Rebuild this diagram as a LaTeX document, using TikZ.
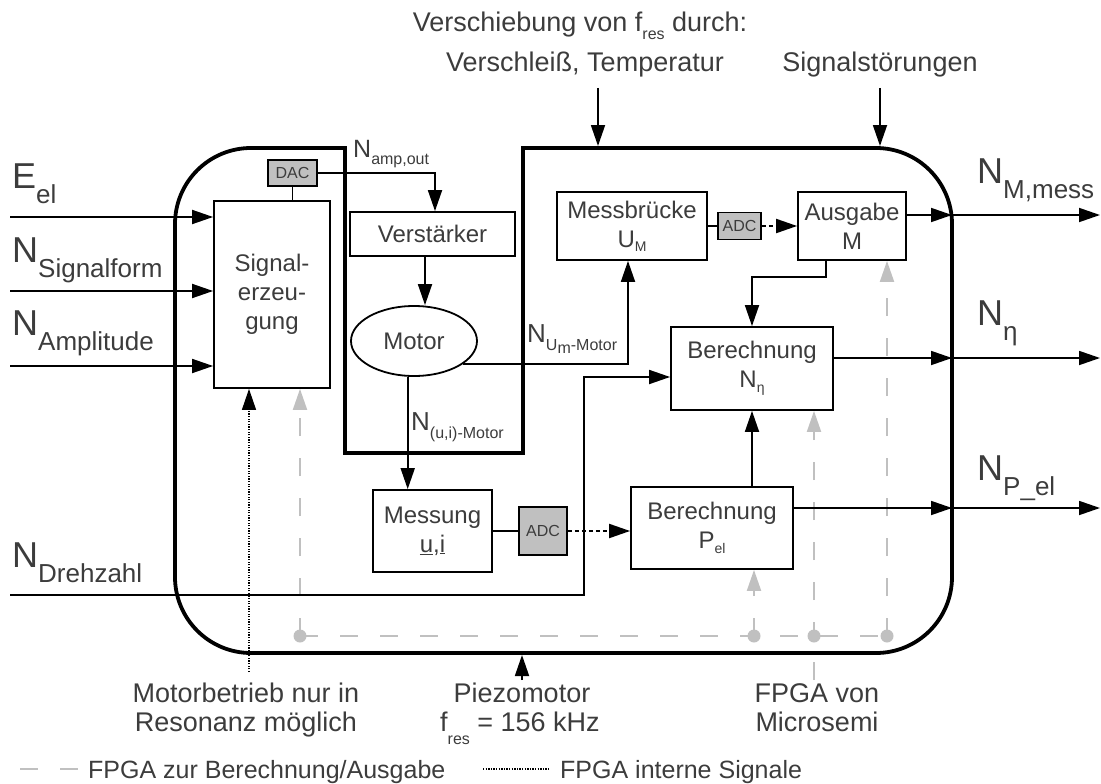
\documentclass[tikz,border=0pt]{standalone}
\usepackage{fontspec}
\setmainfont{Liberation Sans}
\usetikzlibrary{arrows.meta,shapes.geometric,calc}
\definecolor{txt}{RGB}{60,60,60}
\definecolor{fpga}{RGB}{192,192,192}
\definecolor{convfill}{RGB}{192,192,192}
\newcommand\fsz[1]{\fontsize{#1}{#1}\selectfont}
\newcommand\lowsub[3]{\raisebox{-#1pt}{\fontsize{#2}{#2}\selectfont #3}}
\newcommand\bigN[2]{{\fsz{36}#1}\lowsub{15}{26}{#2}}
\begin{document}
\begin{tikzpicture}[x=1pt,y=-1pt,
  tip/.style={-{Triangle[length=21pt,width=14pt]}},
  box/.style={draw=black, line width=1.8pt, fill=white, inner sep=0pt, text=txt, align=center, font=\fontsize{24}{29}\selectfont},
  convbox/.style={draw=black, line width=1.8pt, fill=convfill, inner sep=0pt, text=txt, font=\fsz{16}},
  lab/.style={text=txt, inner sep=0pt, font=\fsz{27}},
  leg/.style={text=txt, inner sep=0pt, font=\fsz{25}},
  wire/.style={line width=1.8pt},
  arr/.style={wire, tip},
  dotarr/.style={line width=2pt, dash pattern=on 4pt off 3pt, tip},
  gline/.style={draw=fpga, line width=2pt, dash pattern=on 18pt off 22pt},
  garr/.style={gline, tip},
  dotline/.style={line width=1.3pt, dash pattern=on 1.3pt off 1.3pt},
  outline/.style={line width=3.8pt, line cap=rect}
]
\useasboundingbox (0,0) rectangle (1101,784);

% ---------- FPGA (grey dashed) lines ----------
\coordinate (g1) at (300,636);
\coordinate (g2) at (754,636);
\coordinate (g3) at (814,636);
\coordinate (g4) at (887,636);
\coordinate (g3e) at (814,680);

% ---------- outline ----------
\draw[outline, rounded corners=76pt] (345,148) -- (175,148) -- (175,653) -- (952,653) -- (952,148) -- (523,148);
\draw[outline, line join=miter] (345,148) -- (345,453) -- (523,453) -- (523,148);

% ---------- boxes ----------
\node[box, minimum width=116pt, minimum height=187pt] (sig) at (272,294.5) {Signal-\\erzeu-\\gung};
\node[convbox, minimum width=49pt, minimum height=26pt] (dac) at (292.5,173) {DAC};
\node[box, minimum width=165pt, minimum height=44pt] (verst) at (432.5,234) {Verstärker};
\node[box, ellipse, minimum width=126pt, minimum height=70pt] (motor) at (414,341) {Motor};
\node[box, minimum width=150pt, minimum height=68pt] (messb) at (632,226) {Messbrücke\\U\lowsub{4}{14}{M}};
\node[convbox, minimum width=43pt, minimum height=27pt] (adcA) at (739.5,226) {ADC};
\node[box, minimum width=108pt, minimum height=68pt] (ausg) at (852,226) {Ausgabe\\M};
\node[box, minimum width=162pt, minimum height=83pt] (bereta) at (752,368.5) {Berechnung\\N\lowsub{5}{14}{η}};
\node[box, minimum width=119pt, minimum height=82pt] (mess) at (432.5,531) {Messung\\\underline{u},\underline{i}};
\node[convbox, minimum width=48pt, minimum height=48pt] (adcB) at (543,531) {ADC};
\node[box, minimum width=162pt, minimum height=82pt] (berpel) at (712,528) {Berechnung\\P\lowsub{5}{14}{el}};

% grey arrows
\draw[gline] (g1) -- (g4);
\draw[garr] (g1) -- (g1 |- sig.south);
\draw[garr] (g2) -- (g2 |- berpel.south);
\draw[garr] (g3e) -- (g3 |- bereta.south);
\draw[garr] (g4) -- (g4 |- ausg.south);
\foreach \g in {g1,g2,g3,g4} \fill[fpga] (\g) circle (6.5pt);

% ---------- coordinates ----------
\coordinate (inE) at (10,217);
\coordinate (inS) at (10,291);
\coordinate (inA) at (10,366);
\coordinate (inD) at (10,595);
\coordinate (dK) at (584,377);
\coordinate (ampK) at (435,173);
\coordinate (vmx) at (425,0);
\coordinate (ak) at (826,277);
\coordinate (oM) at (952,215);
\coordinate (oMe) at (1100,215);
\coordinate (oE) at (952,358);
\coordinate (oEe) at (1100,358);
\coordinate (oP) at (952,508);
\coordinate (oPe) at (1100,508);
\coordinate (mb) at (249,672);
\coordinate (pz) at (522,680);
\coordinate (pzT) at (522,655);
\coordinate (ta1) at (598,88);
\coordinate (ta1e) at (598,146);
\coordinate (ta2) at (880,88);
\coordinate (ta2e) at (880,146);

% ---------- connectors ----------
\draw[arr] (inE) -- (inE -| sig.west);
\draw[arr] (inS) -- (inS -| sig.west);
\draw[arr] (inA) -- (inA -| sig.west);
\draw[arr] (inD) -| (dK) -- (dK -| bereta.west);
\draw[wire] (dac.south) -- (dac.south |- sig.north);
\draw[arr] (dac.east) -- (ampK) -- (ampK |- verst.north);
\draw[arr] (verst.south -| vmx) -- (motor.north -| vmx);
\draw[arr] (motor.-25) -| ([xshift=-4pt]messb.south);
\draw[arr] (motor.-100) -- (motor.-100 |- mess.north);
\draw[wire] (mess.east) -- (adcB.west);
\draw[dotarr] (adcB.east) -- (adcB.east -| berpel.west);
\draw[arr] (bereta.south |- berpel.north) -- (bereta.south);
\draw[wire] (messb.east) -- (adcA.west);
\draw[dotarr] (adcA.east) -- (ausg.west);
\draw[arr] (ausg.south -| ak) -- (ak) -| (bereta.north);
\draw[arr] (ausg.east |- oM) -- (oM);
\draw[arr] (oM) -- (oMe);
\draw[arr] (bereta.east |- oE) -- (oE);
\draw[arr] (oE) -- (oEe);
\draw[arr] (berpel.east |- oP) -- (oP);
\draw[arr] (oP) -- (oPe);
\draw[dotline, tip] (mb) -- (mb |- sig.south);
\draw[arr] (pz) -- (pzT);
\draw[arr] (ta1) -- (ta1e);
\draw[arr] (ta2) -- (ta2e);

% ---------- labels ----------
\node[lab, anchor=base west] (lE) at (12,188) {{\fsz{36}E}\lowsub{15}{26}{el}};
\node[lab, anchor=base west] (lS) at (12,262) {\bigN{N}{Signalform}};
\node[lab, anchor=base west] (lA) at (12,335) {\bigN{N}{Amplitude}};
\node[lab, anchor=base west] (lD) at (12,567) {\bigN{N}{Drehzahl}};
\node[lab, anchor=base west] (lM) at (977,183) {\bigN{N}{M,mess}};
\node[lab, anchor=base west] (lEta) at (977,325) {\bigN{N}{η}};
\node[lab, anchor=base west] (lP) at (977,480) {\bigN{N}{P\_el}};
\node[lab, anchor=base west] (lamp) at (353,157) {{\fsz{25}N}\lowsub{7}{16}{amp,out}};
\node[lab, anchor=base west] (lum) at (527,342) {{\fsz{26}N}\lowsub{8}{16}{U\lowsub{3}{16}{m}-Motor}};
\node[lab, anchor=base west] (lui) at (411,430) {{\fsz{26}N}\lowsub{8}{16}{(u,i)-Motor}};

\node[lab, anchor=base] (t1) at (580,32) {Verschiebung von f\lowsub{8}{16}{res} durch:};
\node[lab, anchor=base] (t2) at (585,71) {Verschleiß, Temperatur};
\node[lab, anchor=base] (t3) at (880,71) {Signalstörungen};

\node[lab, anchor=base] (b1) at (246,702) {Motorbetrieb nur in};
\node[lab, anchor=base] (b2) at (246,731) {Resonanz möglich};
\node[lab, anchor=base] (b3) at (522,702) {Piezomotor};
\node[lab, anchor=base] (b4) at (520,731) {f\lowsub{13}{16}{res} = 156 kHz};
\node[lab, anchor=base] (b5) at (817,702) {FPGA von};
\node[lab, anchor=base] (b6) at (817,731) {Microsemi};

% legend
\coordinate (lg1) at (20,769);
\coordinate (lg2) at (80,769);
\coordinate (ld1) at (483,769);
\coordinate (ld2) at (550,769);
\draw[gline] (lg1) -- (lg2);
\node[leg, anchor=base west] (lgt) at (88,778) {FPGA zur Berechnung/Ausgabe};
\draw[dotline] (ld1) -- (ld2);
\node[leg, anchor=base west] (ldt) at (560,778) {FPGA interne Signale};
\end{tikzpicture}
\end{document}
